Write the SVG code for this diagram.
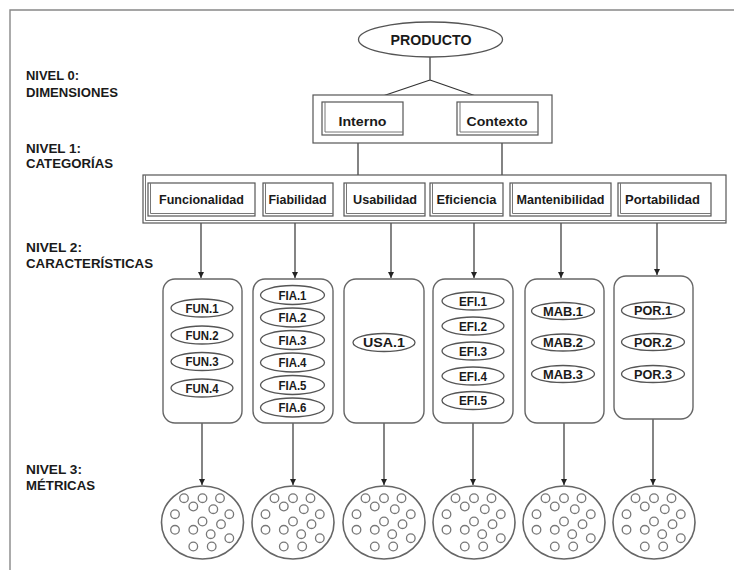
<svg xmlns="http://www.w3.org/2000/svg" width="734" height="570" viewBox="0 0 734 570">
<style>
text{font-family:"Liberation Sans",Arial,sans-serif;font-weight:bold;fill:#1a1a1a}
.lbl{font-size:12px}
.cat{font-size:12.5px;text-anchor:middle}
.dim{font-size:13px;text-anchor:middle}
.el{font-size:13px;text-anchor:middle}
.box{fill:#fff;stroke:#555;stroke-width:1.2}
.shd{fill:none;stroke:#777;stroke-width:1}
.rbox{fill:#fff;stroke:#666;stroke-width:1.4}
.oval{fill:#fff;stroke:#555;stroke-width:1.3}
.met{fill:#fff;stroke:#666;stroke-width:1.6}
.dot{fill:none;stroke:#777;stroke-width:1.3}
.ln{fill:none;stroke:#333;stroke-width:1.2}
.arr{fill:none;stroke:#333;stroke-width:1.2;marker-end:url(#ah)}
.frame{fill:none;stroke:#888;stroke-width:1.4}
</style>
<defs>
<marker id="ah" viewBox="0 0 10 10" refX="10" refY="5" markerWidth="6" markerHeight="6" markerUnits="userSpaceOnUse" orient="auto"><path d="M0,0 L10,5 L0,10 z" fill="#222"/></marker>
<g id="dots" class="dot">
<circle cx="-18.5" cy="-24.3" r="4.3"/><circle cx="0" cy="-24.3" r="4.3"/><circle cx="17.5" cy="-24.3" r="4.3"/>
<circle cx="-9.2" cy="-16" r="4.3"/><circle cx="10.8" cy="-13.3" r="4.3"/>
<circle cx="-27.5" cy="-8.3" r="4.3"/><circle cx="26.8" cy="-8.3" r="4.3"/>
<circle cx="0" cy="-1" r="4.3"/><circle cx="18.5" cy="1.7" r="4.3"/>
<circle cx="-27.5" cy="7.3" r="4.3"/><circle cx="-9.2" cy="7.3" r="4.3"/>
<circle cx="8.2" cy="11.7" r="4.3"/><circle cx="26.8" cy="15.7" r="4.3"/>
<circle cx="-9.2" cy="24" r="4.3"/><circle cx="9.2" cy="24" r="4.3"/>
</g>
</defs>
<rect width="734" height="570" fill="#fff"/>
<path class="frame" d="M10,570 V10 H734"/>

<g id="levels">
<text class="lbl" x="26" y="80" textLength="53" lengthAdjust="spacingAndGlyphs">NIVEL 0:</text>
<text class="lbl" x="26" y="97" textLength="92" lengthAdjust="spacingAndGlyphs">DIMENSIONES</text>
<text class="lbl" x="26" y="153" textLength="55" lengthAdjust="spacingAndGlyphs">NIVEL 1:</text>
<text class="lbl" x="26" y="168" textLength="87" lengthAdjust="spacingAndGlyphs">CATEGORÍAS</text>
<text class="lbl" x="26" y="252" textLength="56" lengthAdjust="spacingAndGlyphs">NIVEL 2:</text>
<text class="lbl" x="26" y="268" textLength="127" lengthAdjust="spacingAndGlyphs">CARACTERÍSTICAS</text>
<text class="lbl" x="26" y="474" textLength="56" lengthAdjust="spacingAndGlyphs">NIVEL 3:</text>
<text class="lbl" x="26" y="490" textLength="69" lengthAdjust="spacingAndGlyphs">MÉTRICAS</text>
</g>

<g id="connectors">
<path class="ln" d="M430,57 V80 M430,80 L365,102 M430,80 L493,102"/>
<path class="ln" d="M403,103 L457,135 M403,135 L457,103"/>
<path class="ln" d="M358,135 V175 M502,135 V175"/>
<path class="arr" d="M201,223 V278"/>
<path class="arr" d="M295,223 V278"/>
<path class="arr" d="M391,223 V278"/>
<path class="arr" d="M474,223 V278"/>
<path class="arr" d="M561,223 V278"/>
<path class="arr" d="M657,223 V275"/>
<path class="arr" d="M202,423 V485"/>
<path class="arr" d="M293,423 V485"/>
<path class="arr" d="M384,423 V485"/>
<path class="arr" d="M473,423 V485"/>
<path class="arr" d="M564,423 V485"/>
<path class="arr" d="M653,419 V485"/>
</g>

<g id="producto">
<ellipse class="oval" cx="430.5" cy="39.5" rx="72" ry="17.5"/>
<text class="dim" x="431" y="45" style="font-size:14px" textLength="81" lengthAdjust="spacingAndGlyphs">PRODUCTO</text>
</g>

<g id="dimensiones">
<rect class="box" x="313" y="95" width="239" height="48"/>
</g>
<g id="interno">
<rect class="box" x="322" y="102" width="81" height="33"/>
<path class="shd" d="M325,102 V132 H403"/>
<text class="dim" x="362.5" y="126" textLength="48" lengthAdjust="spacingAndGlyphs">Interno</text>
</g>
<g id="contexto">
<rect class="box" x="457" y="102" width="81" height="33"/>
<path class="shd" d="M460,102 V132 H538"/>
<text class="dim" x="497" y="126" textLength="61" lengthAdjust="spacingAndGlyphs">Contexto</text>
</g>

<g id="categorias">
<rect class="box" x="143" y="175" width="583" height="48"/>
<path class="shd" d="M145.5,175 V220.5 H726"/>
</g>
<g id="funcionalidad">
<rect class="box" x="148" y="183" width="107" height="33"/>
<path class="shd" d="M150.5,183 V213.5 H255"/>
<text class="cat" x="201.5" y="204" textLength="85" lengthAdjust="spacingAndGlyphs">Funcionalidad</text>
</g>
<g id="fiabilidad">
<rect class="box" x="263" y="183" width="70" height="33"/>
<path class="shd" d="M265.5,183 V213.5 H333"/>
<text class="cat" x="297.5" y="204" textLength="58" lengthAdjust="spacingAndGlyphs">Fiabilidad</text>
</g>
<g id="usabilidad">
<rect class="box" x="344" y="183" width="81" height="33"/>
<path class="shd" d="M346.5,183 V213.5 H425"/>
<text class="cat" x="385" y="204" textLength="64" lengthAdjust="spacingAndGlyphs">Usabilidad</text>
</g>
<g id="eficiencia">
<rect class="box" x="430" y="183" width="73" height="33"/>
<path class="shd" d="M432.5,183 V213.5 H503"/>
<text class="cat" x="466.5" y="204" textLength="60" lengthAdjust="spacingAndGlyphs">Eficiencia</text>
</g>
<g id="mantenibilidad">
<rect class="box" x="510" y="183" width="101" height="33"/>
<path class="shd" d="M512.5,183 V213.5 H611"/>
<text class="cat" x="560.5" y="204" textLength="88" lengthAdjust="spacingAndGlyphs">Mantenibilidad</text>
</g>
<g id="portabilidad">
<rect class="box" x="618" y="183" width="93" height="33"/>
<path class="shd" d="M620.5,183 V213.5 H711"/>
<text class="cat" x="662.5" y="204" textLength="75" lengthAdjust="spacingAndGlyphs">Portabilidad</text>
</g>

<g id="car-fun">
<rect class="rbox" x="163" y="279" width="79" height="144" rx="12"/>
<ellipse class="oval" cx="202" cy="308" rx="31" ry="9"/><text class="el" x="202" y="312.6" textLength="33" lengthAdjust="spacingAndGlyphs">FUN.1</text>
<ellipse class="oval" cx="202" cy="335" rx="31" ry="9"/><text class="el" x="202" y="339.6" textLength="33" lengthAdjust="spacingAndGlyphs">FUN.2</text>
<ellipse class="oval" cx="202" cy="361.5" rx="31" ry="9"/><text class="el" x="202" y="366.1" textLength="33" lengthAdjust="spacingAndGlyphs">FUN.3</text>
<ellipse class="oval" cx="202" cy="388" rx="31" ry="9"/><text class="el" x="202" y="392.6" textLength="33" lengthAdjust="spacingAndGlyphs">FUN.4</text>
</g>
<g id="car-fia">
<rect class="rbox" x="253" y="279" width="80" height="144" rx="12"/>
<ellipse class="oval" cx="292.5" cy="295" rx="32" ry="9.5"/><text class="el" x="292.5" y="299.6" textLength="28" lengthAdjust="spacingAndGlyphs">FIA.1</text>
<ellipse class="oval" cx="292.5" cy="317.5" rx="32" ry="9.5"/><text class="el" x="292.5" y="322.1" textLength="28" lengthAdjust="spacingAndGlyphs">FIA.2</text>
<ellipse class="oval" cx="292.5" cy="340" rx="32" ry="9.5"/><text class="el" x="292.5" y="344.6" textLength="28" lengthAdjust="spacingAndGlyphs">FIA.3</text>
<ellipse class="oval" cx="292.5" cy="362.5" rx="32" ry="9.5"/><text class="el" x="292.5" y="367.1" textLength="28" lengthAdjust="spacingAndGlyphs">FIA.4</text>
<ellipse class="oval" cx="292.5" cy="385" rx="32" ry="9.5"/><text class="el" x="292.5" y="389.6" textLength="28" lengthAdjust="spacingAndGlyphs">FIA.5</text>
<ellipse class="oval" cx="292.5" cy="407.5" rx="32" ry="9.5"/><text class="el" x="292.5" y="412.1" textLength="28" lengthAdjust="spacingAndGlyphs">FIA.6</text>
</g>
<g id="car-usa">
<rect class="rbox" x="344" y="279" width="80" height="144" rx="12"/>
<ellipse class="oval" cx="384" cy="342.5" rx="31" ry="9"/><text class="el" x="384" y="347.1" textLength="42" lengthAdjust="spacingAndGlyphs">USA.1</text>
</g>
<g id="car-efi">
<rect class="rbox" x="433" y="279" width="80" height="144" rx="12"/>
<ellipse class="oval" cx="473" cy="301" rx="31" ry="9"/><text class="el" x="473" y="305.6" textLength="28" lengthAdjust="spacingAndGlyphs">EFI.1</text>
<ellipse class="oval" cx="473" cy="326" rx="31" ry="9"/><text class="el" x="473" y="330.6" textLength="28" lengthAdjust="spacingAndGlyphs">EFI.2</text>
<ellipse class="oval" cx="473" cy="351" rx="31" ry="9"/><text class="el" x="473" y="355.6" textLength="28" lengthAdjust="spacingAndGlyphs">EFI.3</text>
<ellipse class="oval" cx="473" cy="376" rx="31" ry="9"/><text class="el" x="473" y="380.6" textLength="28" lengthAdjust="spacingAndGlyphs">EFI.4</text>
<ellipse class="oval" cx="473" cy="400.5" rx="31" ry="9"/><text class="el" x="473" y="405.1" textLength="28" lengthAdjust="spacingAndGlyphs">EFI.5</text>
</g>
<g id="car-mab">
<rect class="rbox" x="525" y="279" width="79" height="144" rx="12"/>
<ellipse class="oval" cx="563" cy="311" rx="31.5" ry="8.5"/><text class="el" x="563" y="315.6" textLength="40" lengthAdjust="spacingAndGlyphs">MAB.1</text>
<ellipse class="oval" cx="563" cy="342.5" rx="31.5" ry="8.5"/><text class="el" x="563" y="347.1" textLength="40" lengthAdjust="spacingAndGlyphs">MAB.2</text>
<ellipse class="oval" cx="563" cy="374" rx="31.5" ry="8.5"/><text class="el" x="563" y="378.6" textLength="40" lengthAdjust="spacingAndGlyphs">MAB.3</text>
</g>
<g id="car-por">
<rect class="rbox" x="614" y="276" width="79" height="143" rx="12"/>
<ellipse class="oval" cx="653" cy="310.5" rx="31.5" ry="8.5"/><text class="el" x="653" y="315.1" textLength="38" lengthAdjust="spacingAndGlyphs">POR.1</text>
<ellipse class="oval" cx="653" cy="342" rx="31.5" ry="8.5"/><text class="el" x="653" y="346.6" textLength="38" lengthAdjust="spacingAndGlyphs">POR.2</text>
<ellipse class="oval" cx="653" cy="374" rx="31.5" ry="8.5"/><text class="el" x="653" y="378.6" textLength="38" lengthAdjust="spacingAndGlyphs">POR.3</text>
</g>

<g id="met-fun"><ellipse class="met" cx="202.5" cy="522.5" rx="41" ry="36.5"/><use href="#dots" x="202.5" y="522.5"/></g>
<g id="met-fia"><ellipse class="met" cx="293" cy="522.5" rx="41" ry="36.5"/><use href="#dots" x="293" y="522.5"/></g>
<g id="met-usa"><ellipse class="met" cx="384" cy="522.5" rx="41" ry="36.5"/><use href="#dots" x="384" y="522.5"/></g>
<g id="met-efi"><ellipse class="met" cx="474" cy="522.5" rx="41" ry="36.5"/><use href="#dots" x="474" y="522.5"/></g>
<g id="met-mab"><ellipse class="met" cx="564" cy="522.5" rx="41" ry="36.5"/><use href="#dots" x="564" y="522.5"/></g>
<g id="met-por"><ellipse class="met" cx="654" cy="522.5" rx="41" ry="36.5"/><use href="#dots" x="654" y="522.5"/></g>
</svg>
